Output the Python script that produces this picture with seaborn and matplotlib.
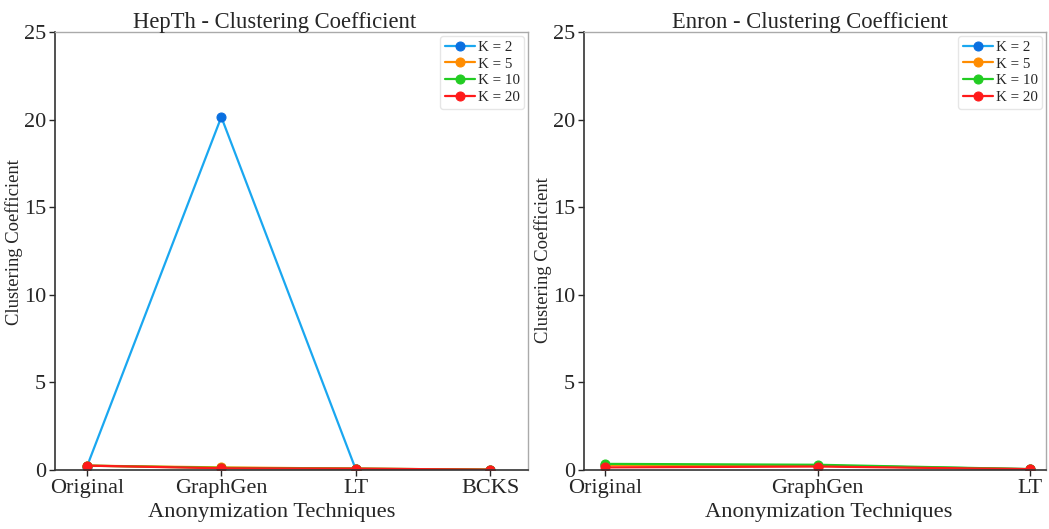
import matplotlib
matplotlib.use("Agg")
import matplotlib.pyplot as plt
import seaborn as sns
import pandas as pd

sns.set_style("white")
plt.rcParams['font.family'] = ['Liberation Serif', 'DejaVu Serif']

k_labels = ["K = 2", "K = 5", "K = 10", "K = 20"]

hepth_techniques = ["Original", "GraphGen", "LT", "BCKS"]
hepth_k2 = [0.20, 20.15, 0.05, 0.01]
hepth_k5 = [0.25, 0.15, 0.08, 0.02]
hepth_k10 = [0.25, 0.12, 0.08, 0.02]
hepth_k20 = [0.25, 0.10, 0.08, 0.02]

enron_techniques = ["Original", "GraphGen", "LT"]
enron_k2 = [0.30, 0.25, 0.05]
enron_k5 = [0.28, 0.25, 0.05]
enron_k10 = [0.35, 0.30, 0.05]
enron_k20 = [0.15, 0.20, 0.05]

line_colors = {"K = 2": "#1aa7f0", "K = 5": "#ff8c00", "K = 10": "#22cc22", "K = 20": "#ff1a1a"}
marker_colors = {"K = 2": "#0a6fe0", "K = 5": "#ff8c00", "K = 10": "#22cc22", "K = 20": "#ff1a1a"}


def build(techs, series):
    rows = []
    for lab, vals in zip(k_labels, series):
        for t, v in zip(techs, vals):
            rows.append({"Technique": t, "K": lab, "CC": v})
    return pd.DataFrame(rows)


fig = plt.figure(figsize=(10.49, 5.29), dpi=100)
ax1 = fig.add_axes([0.0524, 0.1115, 0.451, 0.828])
ax2 = fig.add_axes([0.5567, 0.1115, 0.4404, 0.828])
panels = [
    (ax1, "HepTh - Clustering Coefficient", hepth_techniques,
     [hepth_k2, hepth_k5, hepth_k10, hepth_k20], (-0.238, 3.283),
     0.465, 0.459, (-0.068, 0.52)),
    (ax2, "Enron - Clustering Coefficient", enron_techniques,
     [enron_k2, enron_k5, enron_k10, enron_k20], (-0.1, 2.075),
     0.489, 0.530, (-0.07, 0.48)),
]

for ax, title, techs, series, xl, tx, xlx, ylc in panels:
    df = build(techs, series)
    df["x"] = df["Technique"].map({t: i for i, t in enumerate(techs)})
    for lab in k_labels:
        sub = df[df["K"] == lab]
        sns.lineplot(data=sub, x="x", y="CC", ax=ax, color=line_colors[lab],
                     marker="o", markersize=6.5, markerfacecolor=marker_colors[lab],
                     markeredgecolor=marker_colors[lab], linewidth=1.6, label=lab)
    ax.set_xticks(range(len(techs)))
    ax.set_xticklabels(techs)
    ax.set_xlim(*xl)
    ax.set_ylim(0, 25)
    ax.set_yticks([0, 5, 10, 15, 20, 25])
    ax.set_title(title, fontsize=16.3, pad=3, x=tx)
    ax.set_xlabel("Anonymization Techniques", fontsize=16.2)
    ax.set_ylabel("Clustering Coefficient", fontsize=13.4)
    ax.xaxis.set_label_coords(xlx, -0.075)
    ax.yaxis.set_label_coords(*ylc)
    ax.tick_params(axis="both", labelsize=16, length=4, width=1, direction="out",
                   bottom=True, left=True, pad=2.5)
    for s in ["left", "bottom"]:
        ax.spines[s].set_color("#333333")
        ax.spines[s].set_linewidth(1.2)
    for s in ["top", "right"]:
        ax.spines[s].set_color("#aaaaaa")
        ax.spines[s].set_linewidth(1.0)
    leg = ax.legend(loc="upper right", fontsize=10.8, frameon=True, handlelength=2,
                    handletextpad=0.2, borderpad=0.3, labelspacing=0.22,
                    borderaxespad=0.25)
    leg.get_frame().set_edgecolor("#e0e0e0")

fig.savefig("out.png", dpi=100)
